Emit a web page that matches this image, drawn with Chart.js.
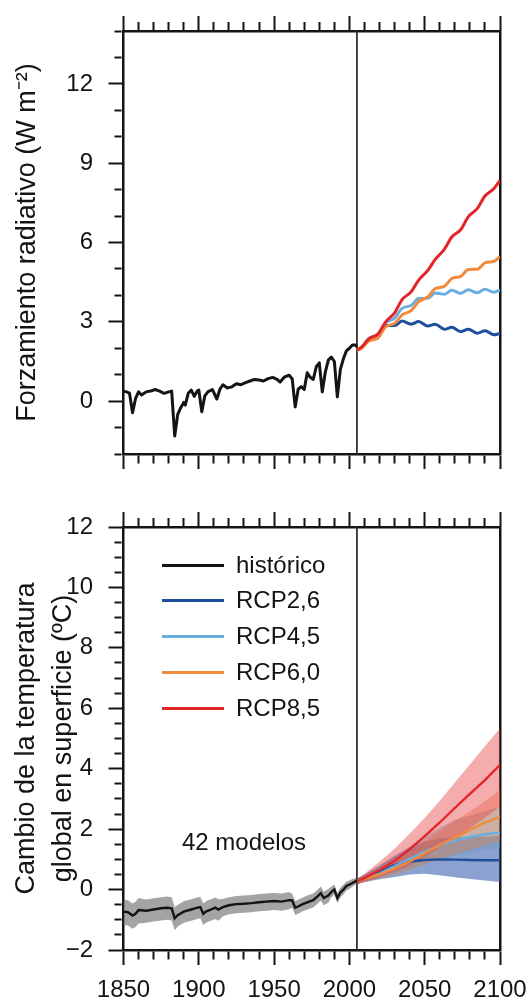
<!DOCTYPE html>
<html>
<head>
<meta charset="utf-8">
<script src="https://cdn.jsdelivr.net/npm/chart.js@4.4.1/dist/chart.umd.min.js"></script>
<style>
html,body{margin:0;padding:0;background:#fff;}
#wrap{position:relative;width:531px;height:1002px;overflow:hidden;font-family:"Liberation Sans",Arial,Helvetica,sans-serif;color:#141414;}
#c1{position:absolute;left:0;top:0;}
#c2{position:absolute;left:0;top:480px;}
.leg{position:absolute;left:162px;height:0;z-index:5;}
.sw{position:absolute;left:0;top:-1.5px;width:62px;height:3px;}
.lt{position:absolute;left:74px;top:-14px;font-size:24px;line-height:28px;white-space:nowrap;}
#models{position:absolute;left:244px;top:828px;transform:translateX(-50%);font-size:24px;line-height:28px;white-space:nowrap;z-index:5;}
</style>
</head>
<body>
<div id="wrap">
  <canvas id="c1" width="531" height="480"></canvas>
  <canvas id="c2" width="531" height="522"></canvas>
  <div class="leg" style="top:565px"><span class="sw" style="background:#141414"></span><span class="lt">histórico</span></div>
  <div class="leg" style="top:600px"><span class="sw" style="background:#1f4e9c"></span><span class="lt">RCP2,6</span></div>
  <div class="leg" style="top:636px"><span class="sw" style="background:#6aaee0"></span><span class="lt">RCP4,5</span></div>
  <div class="leg" style="top:672px"><span class="sw" style="background:#f08a3c"></span><span class="lt">RCP6,0</span></div>
  <div class="leg" style="top:708px"><span class="sw" style="background:#e4262a"></span><span class="lt">RCP8,5</span></div>
  <div id="models">42 modelos</div>
</div>
<script>
// ---------------- DATA ----------------
// Top panel: radiative forcing (W m-2)
const forcYears = [1850,1852,1854,1856,1858,1860,1862,1865,1868,1871,1874,1877,1880,1882,1884,1886,1888,1890,1891,1893,1895,1897,1899,1900,1902,1904,1906,1909,1912,1914,1916,1919,1922,1925,1928,1931,1934,1937,1940,1943,1946,1949,1952,1954,1957,1960,1962,1964,1966,1968,1970,1972,1974,1976,1978,1980,1982,1984,1986,1988,1990,1992,1994,1996,1998,2000,2002,2004,2005];
const forcHist = [0.38,0.35,0.3,-0.44,0.1,0.35,0.23,0.35,0.38,0.44,0.38,0.29,0.35,0.38,-1.32,-0.5,-0.25,-0.05,-0.15,0.3,0.42,0.18,0.38,0.42,-0.4,0.2,0.35,0.44,0.08,0.45,0.62,0.5,0.54,0.66,0.62,0.7,0.76,0.82,0.8,0.76,0.85,0.9,0.82,0.72,0.92,0.98,0.85,-0.22,0.45,0.55,0.44,1.07,0.9,0.82,1.3,1.45,0.35,1.1,1.55,1.67,1.5,0.16,1.2,1.6,1.9,2.0,2.12,2.12,2.05];
const forcRcpYears = [2005,2008,2013,2019,2024,2030,2035,2041,2046,2052,2057,2063,2068,2074,2079,2085,2090,2096,2100];
const forcRcp26 = [1.93,2.02,2.36,2.52,2.86,2.86,3.03,2.91,3.01,2.84,2.91,2.72,2.79,2.63,2.72,2.57,2.66,2.51,2.56];
const forcRcp45 = [1.93,2.02,2.36,2.54,2.96,3.14,3.51,3.62,3.88,3.89,4.09,4.04,4.19,4.08,4.21,4.10,4.23,4.12,4.20];
const forcRcp60 = [1.93,1.99,2.28,2.39,2.81,2.94,3.26,3.42,3.76,3.94,4.26,4.34,4.64,4.72,4.98,4.99,5.23,5.29,5.47];
const forcRcp85 = [1.93,2.04,2.36,2.54,2.99,3.34,3.84,4.14,4.58,4.94,5.36,5.74,6.21,6.49,6.98,7.29,7.76,8.04,8.35];

// Bottom panel: global surface temperature change (ºC)
const tempYears = [1850,1853,1856,1858,1860,1865,1870,1875,1879,1882,1884,1886,1890,1895,1899,1901,1903,1905,1908,1911,1913,1916,1920,1925,1930,1935,1940,1945,1950,1955,1960,1962,1964,1966,1969,1972,1976,1979,1981,1983,1986,1988,1990,1992,1994,1996,1998,2000,2002,2005];
const tempHist = [-0.73,-0.75,-0.86,-0.8,-0.68,-0.7,-0.66,-0.62,-0.6,-0.62,-0.95,-0.85,-0.73,-0.66,-0.6,-0.58,-0.8,-0.72,-0.66,-0.6,-0.66,-0.58,-0.52,-0.48,-0.47,-0.45,-0.42,-0.4,-0.38,-0.4,-0.35,-0.36,-0.6,-0.56,-0.48,-0.42,-0.35,-0.22,-0.12,-0.28,-0.2,-0.08,0.0,-0.28,-0.1,0.0,0.12,0.16,0.22,0.3];
const tempHistHi = [-0.33,-0.35,-0.46,-0.40,-0.28,-0.33,-0.29,-0.25,-0.23,-0.25,-0.58,-0.51,-0.39,-0.32,-0.26,-0.24,-0.46,-0.38,-0.32,-0.26,-0.32,-0.31,-0.25,-0.21,-0.20,-0.18,-0.15,-0.13,-0.11,-0.13,-0.08,-0.14,-0.38,-0.34,-0.26,-0.20,-0.13,0.00,0.10,-0.06,0.02,0.09,0.17,-0.11,0.07,0.16,0.27,0.30,0.35,0.40];
const tempHistLo = [-1.17,-1.19,-1.30,-1.24,-1.12,-1.10,-1.06,-1.02,-1.00,-1.02,-1.35,-1.22,-1.10,-1.03,-0.97,-0.95,-1.17,-1.09,-1.03,-0.97,-1.03,-0.88,-0.82,-0.78,-0.77,-0.75,-0.72,-0.70,-0.68,-0.70,-0.65,-0.60,-0.84,-0.80,-0.72,-0.66,-0.59,-0.46,-0.36,-0.52,-0.44,-0.25,-0.17,-0.45,-0.27,-0.16,-0.03,0.02,0.09,0.20];

const tempRcpYears = [2005,2010,2020,2030,2040,2050,2060,2070,2080,2090,2100];
const tRcp26 = [0.28,0.38,0.58,0.82,0.93,0.98,1.00,0.99,0.98,0.97,0.97];
const tRcp45 = [0.28,0.37,0.53,0.78,1.02,1.26,1.46,1.62,1.74,1.83,1.88];
const tRcp60 = [0.28,0.36,0.50,0.70,0.93,1.20,1.48,1.72,1.97,2.22,2.41];
const tRcp85 = [0.28,0.38,0.65,0.95,1.33,1.77,2.22,2.70,3.17,3.62,4.13];
const tRcp26Hi = [0.36,0.50,0.80,1.12,1.40,1.58,1.70,1.74,1.76,1.76,1.78];
const tRcp26Lo = [0.18,0.25,0.34,0.42,0.50,0.52,0.47,0.41,0.35,0.30,0.25];
const tRcp45Hi = [0.36,0.48,0.75,1.08,1.42,1.76,2.05,2.30,2.45,2.60,2.75];
const tRcp45Lo = [0.18,0.25,0.38,0.52,0.68,0.85,1.00,1.12,1.22,1.30,1.35];
const tRcp60Hi = [0.36,0.46,0.70,0.98,1.27,1.60,1.95,2.27,2.58,2.92,3.30];
const tRcp60Lo = [0.18,0.24,0.36,0.48,0.64,0.84,1.02,1.18,1.32,1.46,1.60];
const tRcp85Hi = [0.36,0.52,0.92,1.35,1.85,2.37,2.94,3.54,4.14,4.74,5.34];
const tRcp85Lo = [0.18,0.25,0.42,0.60,0.80,1.07,1.40,1.70,2.02,2.38,2.75];

const splitYear = 2005;
const xTickYears = [1850,1900,1950,2000,2050,2100];

// ---------------- STYLE ----------------
const INK = '#141414';
const C26 = '#1f4e9c', C45 = '#6aaee0', C60 = '#f08a3c', C85 = '#e4262a';
Chart.defaults.font.family = "'Liberation Sans', Arial, Helvetica, sans-serif";
Chart.defaults.color = INK;
Chart.defaults.animation = false;

const pts = (xs, ys) => xs.map((x, i) => ({x: x, y: ys[i]}));
const isMajor = (v, step) => Math.abs(v / step - Math.round(v / step)) < 1e-6;

function makeX(position, showLabels, size) {
  const top = position === 'top';
  return {
    type: 'linear', position: position, min: 1850, max: 2100,
    ticks: {
      display: showLabels, stepSize: 10, autoSkip: false, maxTicksLimit: 100,
      maxRotation: 0, minRotation: 0, padding: 11, font: {size: 24}, color: INK,
      callback: v => xTickYears.includes(Math.round(v)) && isMajor(v, 50) ? String(Math.round(v)) : ''
    },
    grid: {
      display: true, drawOnChartArea: false, drawTicks: true, tickLength: 15, tickWidth: 2, tickColor: INK,
      tickBorderDash: c => (c.tick && !isMajor(c.tick.value, 50)) ? (top ? [8, 6] : [8, 100]) : [],
      tickBorderDashOffset: c => (c.tick && !isMajor(c.tick.value, 50) && top) ? 8 : 0
    },
    border: {display: true, width: 2.5, color: INK},
    afterFit: s => { s.height = size; s.paddingLeft = 0; s.paddingRight = 0; }
  };
}

function makeY(min, max, step, majorStep, labelFn, title, titlePad, lineHeight) {
  return {
    type: 'linear', position: 'left', min: min, max: max,
    ticks: {
      stepSize: step, autoSkip: false, maxTicksLimit: 100, padding: 15.5,
      font: {size: 24}, color: INK, callback: labelFn
    },
    grid: {
      display: true, drawOnChartArea: false, drawTicks: true, tickLength: 15, tickWidth: 2, tickColor: INK,
      tickBorderDash: c => (c.tick && !isMajor(c.tick.value, majorStep)) ? [7, 6] : [],
      tickBorderDashOffset: c => (c.tick && !isMajor(c.tick.value, majorStep)) ? 7 : 0
    },
    border: {display: true, width: 2.5, color: INK},
    title: {display: true, text: title, color: INK, font: {size: 27, lineHeight: lineHeight}, padding: {top: titlePad, bottom: 0}},
    afterFit: s => { s.width = 123.5; s.paddingTop = 0; s.paddingBottom = 0; }
  };
}

function makeYR(min, max) {
  return {
    type: 'linear', position: 'right', min: min, max: max,
    ticks: {display: false}, grid: {display: false, drawTicks: false},
    border: {display: true, width: 2.5, color: INK},
    afterFit: s => { s.width = 0; s.paddingTop = 0; s.paddingBottom = 0; }
  };
}

function line(data, color, width, order, extra) {
  return Object.assign({
    data: data, borderColor: color, borderWidth: width, pointRadius: 0, fill: false,
    tension: 0, order: order, xAxisID: 'x', yAxisID: 'y'
  }, extra || {});
}

// ---------------- TOP CHART ----------------
new Chart(document.getElementById('c1'), {
  type: 'line',
  data: {
    datasets: [
      line([{x: splitYear, y: -2}, {x: splitYear, y: 14}], '#333', 1.8, 10),
      line(pts(forcYears, forcHist), INK, 3, 5, {borderJoinStyle: 'round'}),
      line(pts(forcRcpYears, forcRcp26), C26, 3, 4, {cubicInterpolationMode: 'monotone'}),
      line(pts(forcRcpYears, forcRcp45), C45, 3, 3, {cubicInterpolationMode: 'monotone'}),
      line(pts(forcRcpYears, forcRcp60), C60, 3, 2, {cubicInterpolationMode: 'monotone'}),
      line(pts(forcRcpYears, forcRcp85), C85, 3, 1, {cubicInterpolationMode: 'monotone'})
    ]
  },
  options: {
    responsive: false, devicePixelRatio: 1,
    layout: {padding: {left: 0, right: 31, top: 0, bottom: 0}},
    plugins: {legend: {display: false}, tooltip: {enabled: false}},
    scales: {
      x: makeX('bottom', false, 26),
      xT: makeX('top', false, 31),
      y: makeY(-2, 14, 1, 3, v => (isMajor(v, 3) && v >= 0 && v <= 12) ? String(Math.round(v)) : '',
               'Forzamiento radiativo (W m\u207B\u00B2)', 11.3, 1.2),
      yR: makeYR(-2, 14)
    }
  }
});

// ---------------- BOTTOM CHART ----------------
function band(lo, hi, color, order, years) {
  return [
    line(pts(years, lo), 'rgba(0,0,0,0)', 0, order),
    line(pts(years, hi), 'rgba(0,0,0,0)', 0, order, {fill: '-1', backgroundColor: color})
  ];
}

new Chart(document.getElementById('c2'), {
  type: 'line',
  data: {
    datasets: [
      ...band(tempHistLo, tempHistHi, 'rgba(125,125,125,0.70)', 15, tempYears),
      ...band(tRcp26Lo, tRcp26Hi, 'rgba(55,95,175,0.58)', 14, tempRcpYears),
      ...band(tRcp45Lo, tRcp45Hi, 'rgba(110,150,190,0.45)', 13, tempRcpYears),
      ...band(tRcp60Lo, tRcp60Hi, 'rgba(225,130,75,0.42)', 12, tempRcpYears),
      ...band(tRcp85Lo, tRcp85Hi, 'rgba(232,70,70,0.45)', 11, tempRcpYears),
      line([{x: splitYear, y: -2}, {x: splitYear, y: 12}], '#333', 1.8, 6),
      line(pts(tempRcpYears, tRcp26), C26, 2.4, 4),
      line(pts(tempRcpYears, tRcp45), C45, 2.4, 3),
      line(pts(tempRcpYears, tRcp60), C60, 2.4, 2),
      line(pts(tempRcpYears, tRcp85), C85, 2.4, 1),
      line(pts(tempYears, tempHist), INK, 2.4, 0)
    ]
  },
  options: {
    responsive: false, devicePixelRatio: 1,
    layout: {padding: {left: 0, right: 31, top: 0, bottom: 0}},
    plugins: {legend: {display: false}, tooltip: {enabled: false}, filler: {propagate: false}},
    scales: {
      x: makeX('bottom', true, 52),
      xT: makeX('top', false, 47),
      y: makeY(-2, 12, 0.5, 2, v => isMajor(v, 2) ? (v < 0 ? '\u2212' + Math.abs(Math.round(v)) : String(Math.round(v))) : '',
               ['Cambio de la temperatura', 'global en superficie (ºC)'], 8.8, 1.35),
      yR: makeYR(-2, 12)
    }
  }
});
</script>
</body>
</html>
